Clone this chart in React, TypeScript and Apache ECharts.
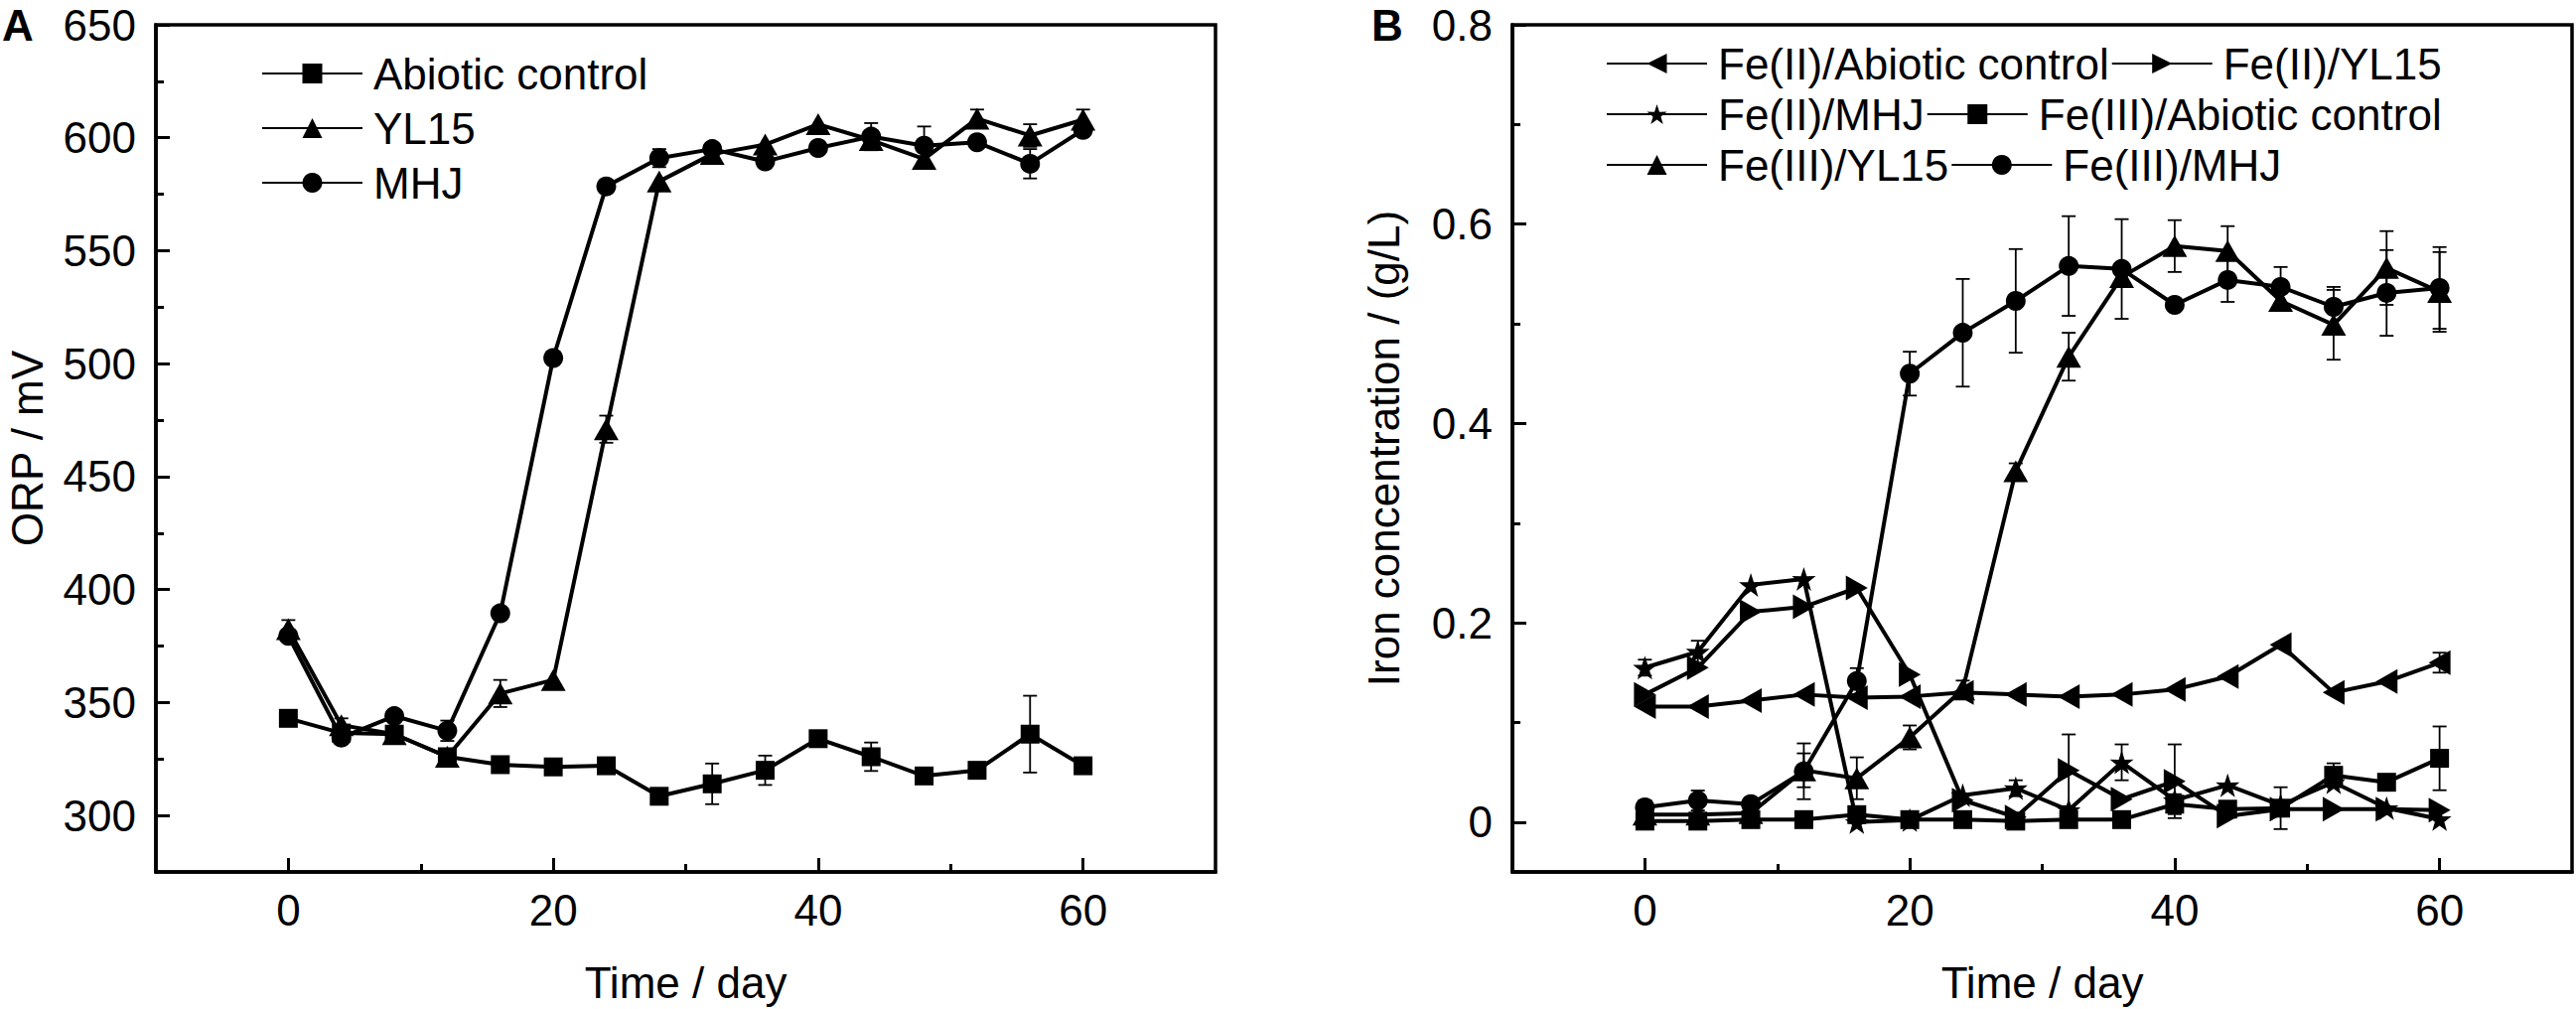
import React, { useEffect, useRef } from "react";
import * as echarts from "echarts";

// ---------- data ----------
const days = [0, 4, 8, 12, 16, 20, 24, 28, 32, 36, 40, 44, 48, 52, 56, 60];

// Panel A: ORP (mV)
const orpAbiotic = [343, 336.5, 336, 326, 322.5, 321.5, 322, 308.5, 314, 320, 334, 326, 317.5, 320, 336, 322];
const orpAbioticErr = [0, 0, 0, 0, 0, 0, 0, 0, 9, 6.5, 0, 6.3, 0, 0, 17, 0];
const orpYL15 = [382.5, 340, 336, 326, 354, 360, 471, 580.7, 592.8, 597, 606, 599, 590.6, 608.5, 601, 608];
const orpYL15Err = [4, 3, 0, 0, 6, 0, 6, 0, 0, 0, 0, 0, 0, 4, 5, 4.5];
const orpMHJ = [379.5, 334.5, 344, 337.5, 389.5, 502.5, 578.5, 591, 595, 589.5, 595.5, 600.5, 596.5, 598, 588.5, 603.5];
const orpMHJErr = [0, 0, 0, 4.5, 0, 0, 0, 4, 0, 0, 0, 6, 8.5, 0, 6.5, 0];

// Panel B: iron concentration (g/L)
const fe2Abiotic = [0.116, 0.116, 0.122, 0.128, 0.125, 0.126, 0.13, 0.128, 0.126, 0.128, 0.133, 0.146, 0.178, 0.13, 0.141, 0.16];
const fe2AbioticErr = [0, 0, 0, 0, 0, 0, 0, 0, 0, 0, 0, 0, 0, 0, 0, 0.01];
const fe2YL15 = [0.128, 0.155, 0.211, 0.216, 0.235, 0.148, 0.022, 0.005, 0.052, 0.023, 0.041, 0.006, 0.013, 0.013, 0.013, 0.012];
const fe2YL15Err = [0, 0, 0, 0, 0, 0, 0, 0, 0.036, 0, 0.037, 0, 0, 0, 0, 0];
const fe2MHJ = [0.155, 0.171, 0.238, 0.244, 0.0, 0.002, 0.027, 0.034, 0.012, 0.06, 0.022, 0.037, 0.017, 0.04, 0.014, 0.003];
const fe2MHJErr = [0.008, 0.011, 0, 0, 0, 0, 0, 0.008, 0, 0.018, 0, 0, 0, 0, 0, 0];
const fe3Abiotic = [0.001, 0.001, 0.0025, 0.0025, 0.0075, 0.0025, 0.0025, 0.001, 0.0025, 0.0025, 0.018, 0.013, 0.014, 0.047, 0.04, 0.064];
const fe3AbioticErr = [0, 0, 0, 0, 0, 0, 0, 0, 0, 0, 0.01, 0, 0.021, 0.012, 0, 0.032];
const fe3YL15 = [0.0075, 0.0075, 0.009, 0.052, 0.044, 0.085, 0.133, 0.352, 0.467, 0.547, 0.578, 0.573, 0.523, 0.499, 0.556, 0.532];
const fe3YL15Err = [0, 0, 0, 0.017, 0.021, 0.012, 0.009, 0.008, 0.024, 0, 0.026, 0.025, 0.008, 0.035, 0.037, 0.04];
const fe3MHJ = [0.0148, 0.0217, 0.018, 0.051, 0.1415, 0.45, 0.491, 0.523, 0.558, 0.555, 0.519, 0.544, 0.537, 0.517, 0.531, 0.536];
const fe3MHJErr = [0.007, 0.01, 0, 0.028, 0.013, 0.022, 0.054, 0.052, 0.05, 0.05, 0.006, 0.022, 0.02, 0.02, 0.043, 0.041];

// tick labels
const xMajorTicks = [0, 20, 40, 60];
const xMinorTicks = [10, 30, 50];
const orpMajorTicks = [300, 350, 400, 450, 500, 550, 600, 650];
const orpMinorTicks = [325, 375, 425, 475, 525, 575, 625];
const feMajorTicks = [0, 0.2, 0.4, 0.6, 0.8];
const feMinorTicks = [0.1, 0.3, 0.5, 0.7];

const STAR = "path://M50,0 L61.8,35.1 L97.6,34.5 L68.8,56.4 L79.4,90.5 L50,70 L20.6,90.5 L31.2,56.4 L2.4,34.5 L38.2,35.1 Z";
const FONT = "Liberation Sans, Arial, Helvetica, sans-serif";
const BLACK = "#000";

function pairs(vals: number[]) {
  return days.map((d, i) => [d, vals[i]]);
}

function errData(vals: number[], errs: number[]) {
  const out: number[][] = [];
  days.forEach((d, i) => {
    if (errs[i] > 0) out.push([d, vals[i], errs[i]]);
  });
  return out;
}

function lineSeries(name: string, vals: number[], axis: number, symbol: string, size: any, rotate = 0) {
  return {
    type: "line",
    name,
    xAxisIndex: axis,
    yAxisIndex: axis,
    data: pairs(vals),
    symbol,
    symbolSize: size,
    symbolRotate: rotate,
    showAllSymbol: true,
    lineStyle: { color: BLACK, width: 4 },
    itemStyle: { color: BLACK },
    z: 3,
  };
}

function errSeries(name: string, vals: number[], errs: number[], axis: number) {
  return {
    type: "custom",
    name,
    xAxisIndex: axis,
    yAxisIndex: axis,
    data: errData(vals, errs),
    encode: { x: 0, y: 1 },
    silent: true,
    z: 2,
    renderItem: (params: any, api: any) => {
      const x = api.value(0);
      const y = api.value(1);
      const e = api.value(2);
      const top = api.coord([x, y + e]);
      const bot = api.coord([x, y - e]);
      const hw = 7;
      const st = { stroke: BLACK, lineWidth: 1.8 };
      return {
        type: "group",
        children: [
          { type: "line", shape: { x1: top[0], y1: top[1], x2: bot[0], y2: bot[1] }, style: st },
          { type: "line", shape: { x1: top[0] - hw, y1: top[1], x2: top[0] + hw, y2: top[1] }, style: st },
          { type: "line", shape: { x1: bot[0] - hw, y1: bot[1], x2: bot[0] + hw, y2: bot[1] }, style: st },
        ],
      };
    },
  };
}

const textBase = { color: BLACK, fontFamily: FONT, fontSize: 44 };

function majorX(grid: number) {
  return {
    type: "value",
    gridIndex: grid,
    min: -10,
    max: 70,
    position: "bottom",
    name: "Time / day",
    nameLocation: "middle",
    nameGap: 89,
    nameTextStyle: textBase,
    axisLine: { show: true, onZero: false, lineStyle: { color: BLACK, width: 3.5 } },
    axisTick: { show: true, inside: true, length: 14, lineStyle: { color: BLACK, width: 3 }, customValues: xMajorTicks },
    axisLabel: { show: true, margin: 16, customValues: xMajorTicks, ...textBase },
    splitLine: { show: false },
    minorTick: { show: false },
  };
}

function minorX(grid: number) {
  return {
    type: "value",
    gridIndex: grid,
    min: -10,
    max: 70,
    position: "bottom",
    axisLine: { show: false, onZero: false },
    axisTick: { show: true, inside: true, length: 8, lineStyle: { color: BLACK, width: 3 }, customValues: xMinorTicks },
    axisLabel: { show: false },
    splitLine: { show: false },
  };
}

function majorY(grid: number, name: string, min: number, max: number, ticks: number[], fmt?: (v: number) => string) {
  return {
    type: "value",
    gridIndex: grid,
    min,
    max,
    position: "left",
    name,
    nameLocation: "middle",
    nameGap: 108,
    nameTextStyle: textBase,
    axisLine: { show: true, onZero: false, lineStyle: { color: BLACK, width: 3.5 } },
    axisTick: { show: true, inside: true, length: 14, lineStyle: { color: BLACK, width: 3 }, customValues: ticks },
    axisLabel: { show: true, margin: 20, customValues: ticks, formatter: fmt, ...textBase, lineHeight: 38 },
    splitLine: { show: false },
  };
}

function minorY(grid: number, min: number, max: number, ticks: number[]) {
  return {
    type: "value",
    gridIndex: grid,
    min,
    max,
    position: "left",
    axisLine: { show: false, onZero: false },
    axisTick: { show: true, inside: true, length: 8, lineStyle: { color: BLACK, width: 3 }, customValues: ticks },
    axisLabel: { show: false },
    splitLine: { show: false },
  };
}

const legendCommon = {
  itemWidth: 101,
  itemHeight: 25,
  selectedMode: false,
  padding: 0,
  textStyle: { ...textBase, padding: [0, 0, 0, 6] },
};

const GRID_TOP = 25;
const GRID_H = 853;

export default function App() {
  const ref = useRef<HTMLDivElement>(null);

  useEffect(() => {
    if (!ref.current) return;
    const chart = echarts.init(ref.current, undefined, { renderer: "svg" });
    const feFmt = (v: number) => (v === 0 ? "0" : v.toFixed(1));

    chart.setOption({
      animation: false,
      backgroundColor: "#fff",
      title: [
        { text: "A", left: 2, top: 6, padding: 0, textStyle: { ...textBase, fontWeight: "bold", lineHeight: 38 } },
        { text: "B", left: 1381, top: 6, padding: 0, textStyle: { ...textBase, fontWeight: "bold", lineHeight: 38 } },
      ],
      grid: [
        { left: 157, top: GRID_TOP, width: 1067, height: GRID_H, show: true, borderColor: BLACK, borderWidth: 3.5, backgroundColor: "transparent", outerBoundsMode: "none" },
        { left: 1523, top: GRID_TOP, width: 1067, height: GRID_H, show: true, borderColor: BLACK, borderWidth: 3.5, backgroundColor: "transparent", outerBoundsMode: "none" },
      ],
      xAxis: [majorX(0), minorX(0), majorX(1), minorX(1)],
      yAxis: [
        majorY(0, "ORP / mV", 275, 650, orpMajorTicks),
        minorY(0, 275, 650, orpMinorTicks),
        majorY(1, "Iron concentration / (g/L)", -0.05, 0.8, feMajorTicks, feFmt),
        minorY(1, -0.05, 0.8, feMinorTicks),
      ],
      legend: [
        { ...legendCommon, orient: "vertical", left: 263, top: 52, itemGap: 11, data: ["Abiotic control", "YL15", "MHJ"] },
        { ...legendCommon, orient: "horizontal", left: 1617, top: 42, itemGap: 2, data: ["Fe(II)/Abiotic control", "Fe(II)/YL15"] },
        { ...legendCommon, orient: "horizontal", left: 1617, top: 93, itemGap: 2, data: ["Fe(II)/MHJ", "Fe(III)/Abiotic control"] },
        { ...legendCommon, orient: "horizontal", left: 1617, top: 144, itemGap: 2, data: ["Fe(III)/YL15", "Fe(III)/MHJ"] },
      ],
      series: [
        errSeries("errA1", orpAbiotic, orpAbioticErr, 0),
        errSeries("errA2", orpYL15, orpYL15Err, 0),
        errSeries("errA3", orpMHJ, orpMHJErr, 0),
        lineSeries("Abiotic control", orpAbiotic, 0, "rect", 19),
        lineSeries("YL15", orpYL15, 0, "triangle", [25, 22]),
        lineSeries("MHJ", orpMHJ, 0, "circle", 20),

        errSeries("errB1", fe2Abiotic, fe2AbioticErr, 2),
        errSeries("errB2", fe2YL15, fe2YL15Err, 2),
        errSeries("errB3", fe2MHJ, fe2MHJErr, 2),
        errSeries("errB4", fe3Abiotic, fe3AbioticErr, 2),
        errSeries("errB5", fe3YL15, fe3YL15Err, 2),
        errSeries("errB6", fe3MHJ, fe3MHJErr, 2),
        lineSeries("Fe(II)/Abiotic control", fe2Abiotic, 2, "triangle", [25, 22], 90),
        lineSeries("Fe(II)/YL15", fe2YL15, 2, "triangle", [25, 22], -90),
        lineSeries("Fe(II)/MHJ", fe2MHJ, 2, STAR, 24),
        lineSeries("Fe(III)/Abiotic control", fe3Abiotic, 2, "rect", 19),
        lineSeries("Fe(III)/YL15", fe3YL15, 2, "triangle", [25, 22]),
        lineSeries("Fe(III)/MHJ", fe3MHJ, 2, "circle", 20),
      ],
    });

    return () => chart.dispose();
  }, []);

  return (
    <div
      ref={ref}
      style={{ position: "fixed", left: 0, top: 0, width: 2594, height: 1016, background: "#fff" }}
    />
  );
}
